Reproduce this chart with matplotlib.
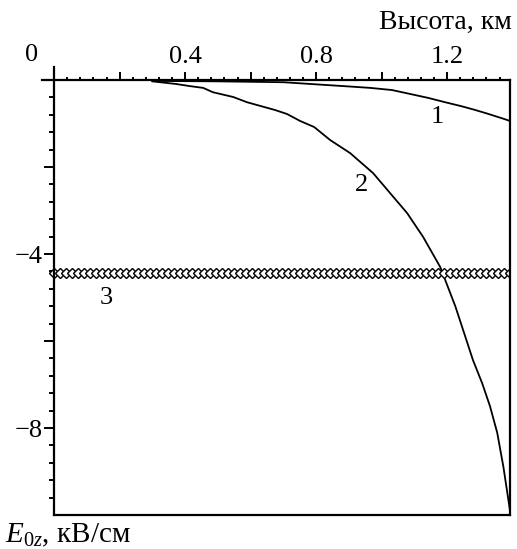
import numpy as np
import matplotlib
matplotlib.use("Agg")
import matplotlib.pyplot as plt
from matplotlib.ticker import FixedLocator, FuncFormatter

# curve 1
h1 = [0.30, 0.50, 0.70, 0.885, 0.965, 1.032, 1.087, 1.142, 1.194, 1.243, 1.282, 1.322, 1.368, 1.392]
e1 = [-0.02, -0.03, -0.05, -0.14, -0.18, -0.23, -0.32, -0.41, -0.51, -0.60, -0.68, -0.77, -0.88, -0.94]
# curve 2
h2 = [0.30, 0.324, 0.372, 0.415, 0.455, 0.485, 0.547, 0.589, 0.632, 0.675, 0.711, 0.751, 0.794,
      0.843, 0.904, 0.974, 1.026, 1.078, 1.127, 1.179, 1.225, 1.249, 1.279, 1.307, 1.331,
      1.353, 1.372, 1.392]
e2 = [-0.03, -0.05, -0.09, -0.14, -0.18, -0.28, -0.39, -0.51, -0.60, -0.69, -0.78, -0.94, -1.08,
      -1.38, -1.68, -2.14, -2.60, -3.06, -3.61, -4.30, -5.20, -5.75, -6.44, -6.97, -7.50,
      -8.11, -8.90, -9.90]
# level 3
h3 = [0.0, 1.392]
e3 = -4.44

plt.rcParams['font.family'] = ['Liberation Serif', 'DejaVu Serif']
plt.rcParams['mathtext.fontset'] = 'custom'
plt.rcParams['mathtext.rm'] = 'Liberation Serif'
plt.rcParams['mathtext.it'] = 'Liberation Serif:italic'

fig = plt.figure(figsize=(5.17, 5.49), dpi=100)
ax = fig.add_axes([42/517, 34/549, 468/517, 448/549])

ax.plot(h1, e1, color='black', lw=1.3)
ax.plot(h2, e2, color='black', lw=1.3)
ax.plot(h3, [e3, e3], color='black', lw=1.0)
xm = np.arange(h3[0], h3[1] + 0.001, 0.0183)
ax.plot(xm, np.full(len(xm), e3), ls='none', marker='D', ms=4.6,
        mfc='white', mec='black', mew=1.0)

ax.set_xlim(-0.037, 1.392)
ax.set_ylim(-10, 0.3)

ax.spines['top'].set_position(('data', 0))
ax.spines['left'].set_position(('data', 0))
ax.spines['right'].set_bounds(-10, 0)
ax.spines['bottom'].set_bounds(0, 1.392)
for s in ax.spines.values():
    s.set_linewidth(1.6)

ax.xaxis.tick_top()
ax.xaxis.set_major_locator(FixedLocator([0.2, 0.4, 0.6, 0.8, 1.0, 1.2]))
ax.xaxis.set_minor_locator(FixedLocator(np.arange(0.04, 1.38, 0.04)))
ax.xaxis.set_major_formatter(FuncFormatter(
    lambda v, p: f"{v:.1f}" if round(v / 0.4, 3) % 1 == 0 else ""))
ax.tick_params(axis='x', which='major', direction='out', length=6, width=1.4,
               labelsize=19, pad=3)
ax.tick_params(axis='x', which='minor', direction='out', length=2.5, width=1.4)

ax.yaxis.set_major_locator(FixedLocator([-2, -4, -6, -8]))
ax.yaxis.set_minor_locator(FixedLocator(np.arange(-0.4, -9.9, -0.4)))
ax.yaxis.set_major_formatter(FuncFormatter(
    lambda v, p: f"\u2212{abs(v):.0f}" if v in (-4, -8) else ""))
ax.tick_params(axis='y', which='major', direction='out', length=7, width=1.4,
               labelsize=19, pad=1)
ax.tick_params(axis='y', which='minor', direction='out', length=3.5, width=1.4)

fig.text(32/517, 1 - 55/549, "0", fontsize=19, ha='center', va='center')
fig.text(512/517, 1 - 22/549, "Высота, км", fontsize=20, ha='right', va='center')
fig.text(5/517, 1 - 535/549, "$E_{0z}$, кВ/см", fontsize=21, ha='left', va='center')

ax.text(1.17, -0.85, "1", fontsize=19, ha='center', va='center')
ax.text(0.94, -2.42, "2", fontsize=19, ha='center', va='center')
ax.text(0.16, -5.0, "3", fontsize=19, ha='center', va='center')

fig.savefig("out.png", dpi=100)
